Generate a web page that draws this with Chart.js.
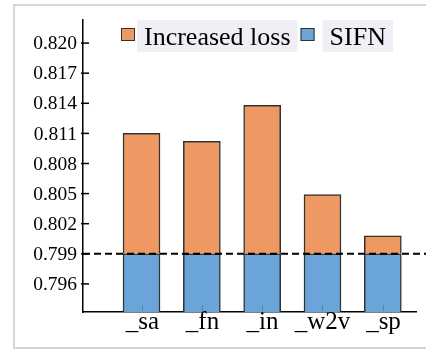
<!DOCTYPE html>
<html>
<head>
<meta charset="utf-8">
<script src="https://cdn.jsdelivr.net/npm/chart.js@4.4.0/dist/chart.umd.min.js"></script>
<style>
    html, body { margin: 0; padding: 0; background: #fff; overflow: hidden; }
    #wrap { position: relative; width: 426px; height: 350px; }
    #frame { position: absolute; left: 13px; top: 4px; width: 480px; height: 345px; border: 2px solid #d6d6d6; box-sizing: border-box; }
    #chart { position: absolute; left: 0; top: 0; }
</style>
</head>
<body>
<div id="wrap">
    <div id="frame"></div>
    <canvas id="chart" width="426" height="350"></canvas>
</div>
<script>
const categories = ['_sa', '_fn', '_in', '_w2v', '_sp'];
const sifnValues = [0.799, 0.799, 0.799, 0.799, 0.799];
const increasedLoss = [0.0120, 0.0112, 0.0148, 0.0059, 0.0018];
const yTickValues = [0.796, 0.799, 0.802, 0.805, 0.808, 0.811, 0.814, 0.817, 0.820];
const sifnLine = 0.799;

const serif = '"Liberation Serif", "Times New Roman", serif';

// legend with shaded text boxes, drawn inside the plot
const boxLegend = {
    id: 'boxLegend',
    afterDraw(chart) {
        const ctx = chart.ctx;
        const top = chart.chartArea.top;
        const items = chart.data.datasets.slice().reverse();
        let x = chart.chartArea.left + 38;
        ctx.save();
        ctx.font = '26px ' + serif;
        ctx.textBaseline = 'alphabetic';
        items.forEach((ds, i) => {
            ctx.fillStyle = ds.backgroundColor;
            ctx.fillRect(x, top + 8, 14, 13);
            ctx.strokeStyle = '#333';
            ctx.lineWidth = 1;
            ctx.strokeRect(x + 0.5, top + 8.5, 13, 12);
            const w = ctx.measureText(ds.label).width;
            const bx = x + (i === 0 ? 16 : 22);
            ctx.fillStyle = '#efeff5';
            ctx.fillRect(bx, top, w + 14, 32);
            ctx.fillStyle = '#000';
            ctx.fillText(ds.label, bx + 7, top + 25);
            x = bx + w + 14 + 3;
        });
        ctx.restore();
    }
};

// dashed SIFN line, inward tick marks and serif tick labels
const marks = {
    id: 'marks',
    afterDraw(chart) {
        const { ctx, chartArea, scales } = chart;
        ctx.save();
        const yLine = scales.y.getPixelForValue(sifnLine);
        ctx.setLineDash([7, 4]);
        ctx.lineWidth = 2;
        ctx.strokeStyle = '#000';
        ctx.beginPath();
        ctx.moveTo(chartArea.left, yLine);
        ctx.lineTo(chart.width, yLine);
        ctx.stroke();
        ctx.setLineDash([]);

        ctx.lineWidth = 1.5;
        ctx.fillStyle = '#000';
        ctx.font = '19.5px ' + serif;
        ctx.textAlign = 'right';
        ctx.textBaseline = 'middle';
        scales.y.ticks.forEach(t => {
            const py = scales.y.getPixelForValue(t.value);
            ctx.beginPath();
            ctx.moveTo(chartArea.left - 2, py);
            ctx.lineTo(chartArea.left + 6, py);
            ctx.stroke();
            ctx.fillText(t.value.toFixed(3), chartArea.left - 6, py + 1);
        });

        ctx.strokeStyle = 'rgba(70, 90, 130, 0.45)';
        ctx.lineWidth = 1;
        ctx.font = '25px ' + serif;
        ctx.textAlign = 'center';
        ctx.textBaseline = 'alphabetic';
        scales.x.ticks.forEach(t => {
            const px = Math.round(scales.x.getPixelForValue(t.value)) + 0.5;
            ctx.beginPath();
            ctx.moveTo(px, chartArea.bottom - 1);
            ctx.lineTo(px, chartArea.bottom - 7);
            ctx.stroke();
            ctx.fillText(categories[t.value], px, chartArea.bottom + 17);
        });
        ctx.restore();
    }
};

new Chart(document.getElementById('chart'), {
    type: 'bar',
    data: {
        datasets: [{
            label: 'SIFN',
            data: sifnValues.map((v, i) => ({ x: i, y: v })),
            backgroundColor: '#6ba4d9',
            borderColor: '#333',
            borderWidth: 1.5,
            borderSkipped: 'start',
            barThickness: 37
        }, {
            label: 'Increased loss',
            data: increasedLoss.map((v, i) => ({ x: i, y: v })),
            backgroundColor: '#ee9863',
            borderColor: '#333',
            borderWidth: 1.5,
            borderSkipped: 'start',
            barThickness: 37
        }]
    },
    options: {
        responsive: false,
        animation: false,
        devicePixelRatio: 1,
        layout: { padding: { top: 20, right: 10, left: 0, bottom: 0 } },
        plugins: {
            legend: { display: false },
            tooltip: { enabled: false }
        },
        scales: {
            x: {
                type: 'linear',
                stacked: true,
                offset: false,
                min: -0.97,
                max: 4.55,
                z: 1,
                afterBuildTicks: s => { s.ticks = categories.map((c, i) => ({ value: i })); },
                afterFit: s => { s.height = 38; },
                grid: { display: false, drawTicks: false, offset: false },
                border: { display: true, color: '#000', width: 1.5 },
                ticks: { display: false }
            },
            y: {
                stacked: true,
                min: 0.7932,
                max: 0.8223,
                z: 1,
                afterBuildTicks: s => { s.ticks = yTickValues.map(v => ({ value: v })); },
                afterFit: s => { s.width = 83; },
                grid: { display: false, drawTicks: false },
                border: { display: true, color: '#000', width: 1.5 },
                ticks: { display: false }
            }
        }
    },
    plugins: [boxLegend, marks]
});
</script>
</body>
</html>
